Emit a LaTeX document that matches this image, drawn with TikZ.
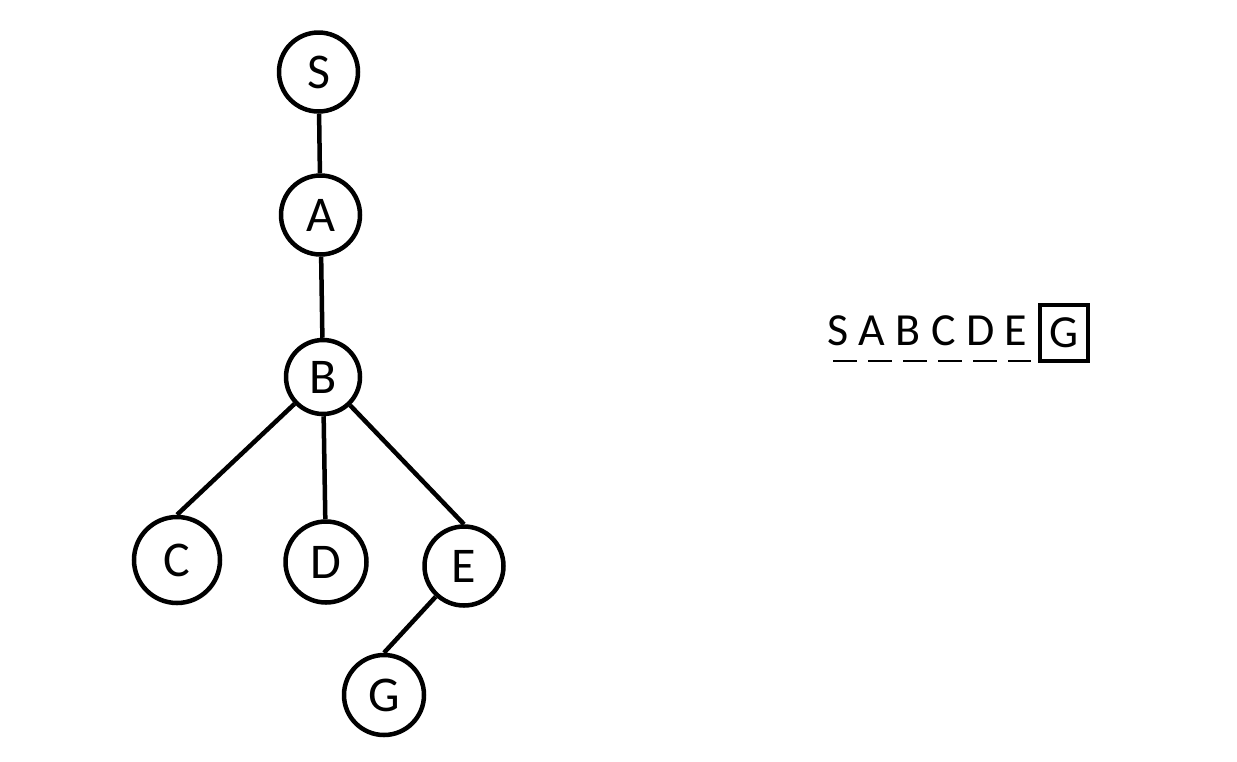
\documentclass[tikz,border=0pt]{standalone}
\usepackage{fontspec}
\setmainfont{Carlito}
\begin{document}
\begin{tikzpicture}[x=1pt,y=-1pt,
  vert/.style={circle,draw,line width=4.5pt,inner sep=0pt,font=\fontsize{50}{50}\selectfont},
  edge/.style={line width=4.5pt}]
\useasboundingbox (0,0) rectangle (1237,761);
\node[vert,minimum size=79pt] (S) at (318.5,72) {S};
\node[vert,minimum size=79pt] (A) at (320.5,215) {A};
\node[vert,minimum size=74pt] (B) at (323,377) {B};
\node[vert,minimum size=86pt] (C) at (177,560) {C};
\node[vert,minimum size=81pt] (D) at (326,562) {D};
\node[vert,minimum size=79pt] (E) at (464,566) {E};
\node[vert,minimum size=80pt] (G) at (384,695) {G};
\draw[edge] (S) -- (A);
\draw[edge] (A) -- (B);
\draw[edge] (B) -- (C.north);
\draw[edge] (B) -- (D);
\draw[edge] (B) -- (E.north);
\draw[edge] (E) -- (G.north);
% sequence
\node[anchor=base west,inner sep=0pt,font=\fontsize{46}{46}\selectfont] (seq) at (827,345) {S A B C D E};
\node[draw,line width=4.5pt,minimum width=48pt,minimum height=56pt,inner sep=0pt,font=\fontsize{46}{46}\selectfont] (goal) at (1064,333) {G};
\coordinate (u1) at (833,361);
\coordinate (u2) at (1031,361);
\draw[line width=2.5pt,dash pattern=on 24pt off 11pt] (u1) -- (u2);
\end{tikzpicture}
\end{document}
